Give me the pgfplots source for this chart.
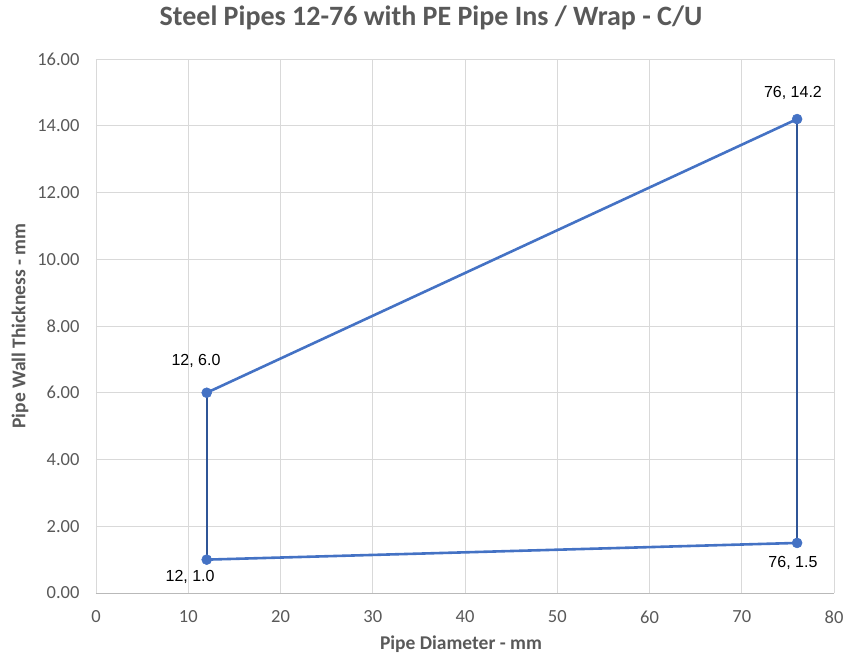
\documentclass[border=0pt]{standalone}
\usepackage{pgfplots}
\pgfplotsset{compat=1.18}
\usepackage{fontspec}
\setmainfont{Carlito}
\newfontfamily\arial{Liberation Sans}
\definecolor{txtgray}{HTML}{595959}
\definecolor{gridgray}{HTML}{D9D9D9}
\definecolor{lineblue}{HTML}{4472C4}
\definecolor{darkblue}{HTML}{2F5597}

\begin{document}
\begin{tikzpicture}
\begin{axis}[
    scale only axis,
    width=738pt, height=534pt,
    xmin=0, xmax=80, ymin=0, ymax=16,
    xtick={0,10,...,80},
    ytick={0,2,...,16},
    grid=major,
    major grid style={gridgray, line width=0.8pt},
    axis line style={draw=none},
    major tick length=0pt,
    ticklabel style={font=\fontsize{18.5}{22}\selectfont, text=txtgray},
    /pgf/number format/assume math mode=true,
    yticklabel style={/pgf/number format/fixed, /pgf/number format/fixed zerofill,
                      /pgf/number format/precision=2, anchor=east, xshift=-13pt},
    xticklabel style={anchor=center, yshift=-24pt},
    xlabel={\textbf{Pipe Diameter - mm}},
    ylabel={\textbf{Pipe Wall Thickness - mm}},
    label style={font=\fontsize{19.5}{23}\selectfont, text=txtgray},
    xlabel style={at={(0.5,0)}, anchor=center, yshift=-51pt, xshift=-4pt},
    ylabel style={at={(0,0.5)}, anchor=center, rotate=0, yshift=76pt},
    title={\textbf{Steel Pipes 12-76 with PE Pipe Ins / Wrap - C/U}},
    title style={font=\fontsize{28}{32}\selectfont, text=txtgray,
                 at={(0.5,1)}, anchor=center, yshift=35pt, xshift=-34pt},
    unbounded coords=jump,
    clip=false,
]
\coordinate (SW) at (rel axis cs:0,0);
\coordinate (NE) at (rel axis cs:1,1);

% bottom axis line
\addplot[draw=gray!55, line width=1pt, forget plot] coordinates {(0,0) (80,0)};

% vertical connectors
\addplot[darkblue, line width=2pt] coordinates {
    (12,1.0) (12,6.0)
    (nan,nan)
    (76,1.5) (76,14.2)
};

% sloped lines with markers
\addplot[lineblue, line width=2.6pt, mark=*, mark size=5pt,
         mark options={fill=lineblue, draw=lineblue, line width=0.5pt}] coordinates {
    (12,6.0) (76,14.2)
    (nan,nan)
    (12,1.0) (76,1.5)
};

\node[font=\arial\fontsize{16}{19}\selectfont, anchor=center] at (axis cs:10.84,6.95) {12, 6.0};
\node[font=\arial\fontsize{16}{19}\selectfont, anchor=center] at (axis cs:75.55,14.98) {76, 14.2};
\node[font=\arial\fontsize{16}{19}\selectfont, anchor=center] at (axis cs:75.55,0.90) {76, 1.5};
\node[font=\arial\fontsize{16}{19}\selectfont, anchor=center] at (axis cs:10.2,0.48) {12, 1.0};
\end{axis}
\pgfresetboundingbox
\path[use as bounding box] ([shift={(-96pt,-70pt)}]SW) rectangle ([shift={(12pt,59pt)}]NE);
\end{tikzpicture}
\end{document}
